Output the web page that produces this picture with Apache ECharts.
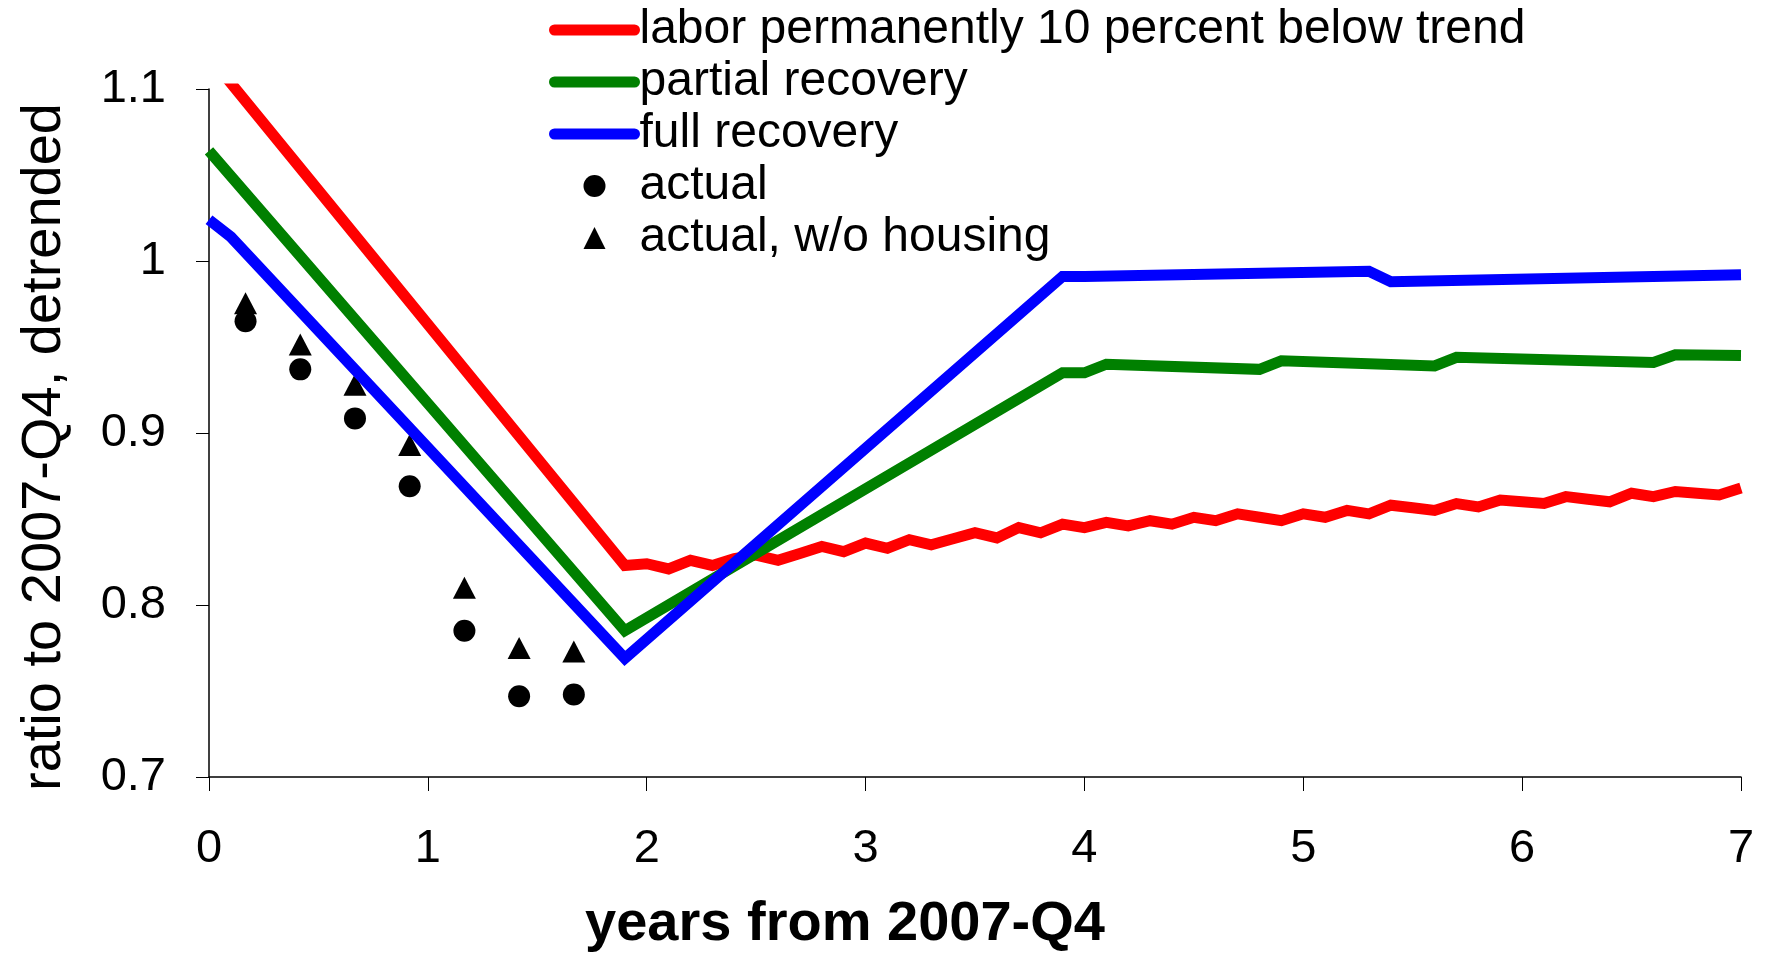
<!DOCTYPE html>
<html lang="en">

<head>
    <meta charset="UTF-8">
    <title>Output ratio to 2007-Q4</title>
    <style>
        * {
            padding: 0;
            margin: 0;
        }

        body,
        html {
            width: 100%;
            height: 100%;
            background: #fff;
        }

        .chart {
            width: 1772px;
            height: 956px;
        }
    </style>
</head>

<body>
    <div id="main" class="chart"></div>
</body>

</html>
<script src="https://cdn.jsdelivr.net/npm/echarts@6/dist/echarts.min.js"></script>
<script>
    // x = years from 2007-Q4, y = ratio to 2007-Q4 (detrended)
    var redX = [0, 1.9, 2.0, 2.1, 2.2, 2.3, 2.4, 2.5, 2.6, 2.7, 2.8, 2.9, 3.0, 3.1, 3.2, 3.3, 3.4, 3.5, 3.6, 3.7, 3.8, 3.9,
        4.0, 4.1, 4.2, 4.3, 4.4, 4.5, 4.6, 4.7, 4.8, 4.9, 5.0, 5.1, 5.2, 5.3, 5.4, 5.5, 5.6, 5.7, 5.8, 5.9,
        6.0, 6.1, 6.2, 6.3, 6.4, 6.5, 6.6, 6.7, 6.8, 6.9, 7.0];
    var redY = [1.119, 0.823, 0.824, 0.821, 0.826, 0.823, 0.827, 0.829, 0.826, 0.830, 0.834, 0.831, 0.836, 0.833, 0.838, 0.835, 0.8385, 0.842, 0.839, 0.845, 0.842, 0.847,
        0.845, 0.848, 0.846, 0.849, 0.847, 0.851, 0.849, 0.853, 0.851, 0.849, 0.853, 0.851, 0.855, 0.853, 0.858, 0.8565, 0.855, 0.859, 0.857, 0.861,
        0.860, 0.859, 0.863, 0.8615, 0.860, 0.865, 0.863, 0.866, 0.865, 0.864, 0.868];

    var greenX = [0, 1.9, 3.9, 4.0, 4.1, 4.8, 4.9, 5.6, 5.7, 6.6, 6.7, 7.0];
    var greenY = [1.064, 0.785, 0.935, 0.935, 0.940, 0.937, 0.942, 0.939, 0.944, 0.941, 0.9455, 0.945];

    var blueX = [0, 0.1, 1.9, 3.9, 4.0, 5.3, 5.4, 7.0];
    var blueY = [1.024, 1.014, 0.769, 0.991, 0.991, 0.994, 0.988, 0.992];

    var actualX = [0.167, 0.417, 0.667, 0.917, 1.167, 1.417, 1.667];
    var actualY = [0.965, 0.937, 0.9085, 0.869, 0.785, 0.747, 0.748];
    var noHousingY = [0.9755, 0.9515, 0.928, 0.893, 0.81, 0.775, 0.773];

    var names = ['labor permanently 10 percent below trend', 'partial recovery', 'full recovery', 'actual', 'actual, w/o housing'];

    function pairs(xs, ys) {
        return xs.map(function (x, i) { return [x, ys[i]]; });
    }

    var FONT = 'Liberation Sans, Arial, sans-serif';

    var myChart = echarts.init(document.getElementById('main'), null, { renderer: 'canvas' });

    var lineItem = function (name) {
        return { name: name, lineStyle: { width: 11, cap: 'round' }, itemStyle: { opacity: 0 } };
    };

    var option = {
        backgroundColor: '#fff',
        animation: false,
        textStyle: { fontFamily: FONT, color: '#000' },
        grid: { left: 209, right: 31, top: 89, bottom: 179, containLabel: false, outerBoundsMode: 'none' },
        legend: {
            orient: 'vertical',
            left: 544,
            top: 1,
            itemWidth: 80,
            itemHeight: 22,
            itemGap: 4,
            symbolKeepAspect: true,
            textStyle: { fontSize: 48, color: '#000', fontFamily: FONT },
            data: [lineItem(names[0]), lineItem(names[1]), lineItem(names[2]),
                { name: names[3], icon: 'circle', itemStyle: { opacity: 1 } },
                { name: names[4], icon: 'path://M0,20 L10,0 L20,20 Z', itemStyle: { opacity: 1 } }]
        },
        xAxis: {
            type: 'value',
            min: 0,
            max: 7,
            interval: 1,
            name: 'years from 2007-Q4',
            nameLocation: 'middle',
            nameGap: 120,
            nameTextStyle: { fontSize: 56, fontWeight: 'bold', color: '#000', fontFamily: FONT, padding: [0, 260, 0, 0] },
            axisLine: { lineStyle: { color: '#000', width: 1.5 } },
            axisTick: { length: 14, lineStyle: { color: '#000', width: 1 } },
            axisLabel: { fontSize: 47, color: '#000', margin: 49, fontFamily: FONT },
            splitLine: { show: false }
        },
        yAxis: {
            type: 'value',
            min: 0.7,
            max: 1.1,
            interval: 0.1,
            name: 'ratio to 2007-Q4, detrended',
            nameLocation: 'middle',
            nameRotate: 90,
            nameGap: 136,
            nameTextStyle: { fontSize: 56, color: '#000', fontFamily: FONT, padding: [0, 28, 0, 0] },
            axisLine: { show: true, lineStyle: { color: '#000', width: 1.5 } },
            axisTick: { show: true, length: 13, lineStyle: { color: '#000', width: 1 } },
            axisLabel: { fontSize: 47, color: '#000', margin: 43, fontFamily: FONT },
            splitLine: { show: false }
        },
        series: [{
            name: names[0],
            type: 'line',
            symbol: 'none',
            clip: true,
            color: '#ff0000',
            lineStyle: { width: 11, color: '#ff0000', join: 'miter' },
            data: pairs(redX, redY)
        }, {
            name: names[1],
            type: 'line',
            symbol: 'none',
            clip: true,
            color: '#008000',
            lineStyle: { width: 11, color: '#008000', join: 'miter' },
            data: pairs(greenX, greenY)
        }, {
            name: names[2],
            type: 'line',
            symbol: 'none',
            clip: true,
            color: '#0000ff',
            lineStyle: { width: 11, color: '#0000ff', join: 'miter' },
            data: pairs(blueX, blueY)
        }, {
            name: names[3],
            type: 'scatter',
            symbol: 'circle',
            symbolSize: 22,
            itemStyle: { color: '#000', opacity: 1 },
            data: pairs(actualX, actualY)
        }, {
            name: names[4],
            type: 'scatter',
            symbol: 'triangle',
            symbolSize: [23, 22],
            itemStyle: { color: '#000', opacity: 1 },
            data: pairs(actualX, noHousingY)
        }]
    };
    myChart.setOption(option);
</script>
